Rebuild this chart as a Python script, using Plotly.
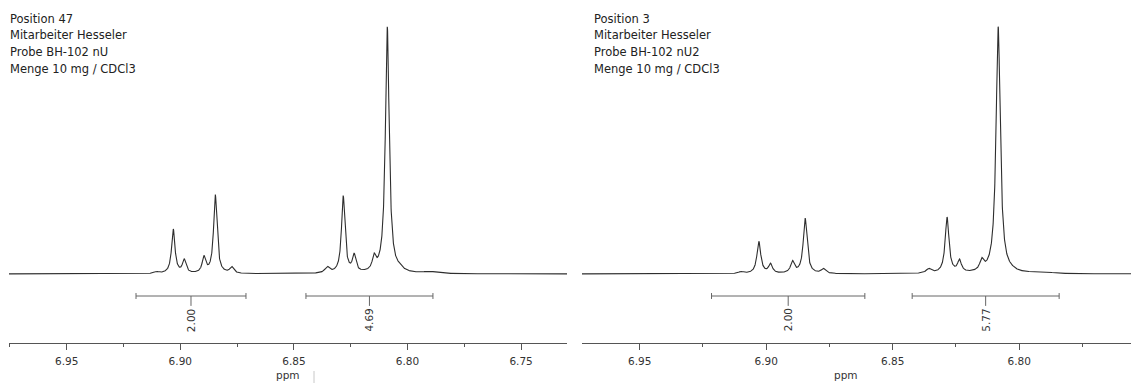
import numpy as np
import plotly.graph_objects as go

# ---------------- data ----------------
# peak positions (ppm), apparent heights (% of tallest line), half-widths (ppm)
peak_ppm_a = [6.9104, 6.9031, 6.8983, 6.8896, 6.8846, 6.8774, 6.8353, 6.8283, 6.8235, 6.8147, 6.8089, 6.8034, 6.7901]
peak_height_a = [1.05, 18.2, 6.2, 7.5, 32.1, 3.1, 3.1, 31.7, 8.5, 8.5, 100.0, 4.4, 1.05]
peak_ppm_b = [6.9100, 6.9029, 6.8983, 6.8896, 6.8846, 6.8774, 6.8357, 6.8285, 6.8236, 6.8148, 6.8083, 6.8029, 6.7911]
peak_height_b = [1.05, 13.2, 4.4, 5.5, 22.6, 2.3, 2.3, 23.0, 6.1, 6.7, 100.0, 3.8, 1.05]
peak_hwhm = [0.0012, 0.0009, 0.0009, 0.0009, 0.0009, 0.0010, 0.0012, 0.0009, 0.0009, 0.0009, 0.0010, 0.0016, 0.0040]

integral_ranges_a = [(6.9195, 6.8711), (6.8447, 6.7888)]
integral_values_a = [2.00, 4.69]
integral_ranges_b = [(6.9216, 6.8610), (6.8423, 6.7842)]
integral_values_b = [2.00, 5.77]

info_a = ["Position 47", "Mitarbeiter Hesseler", "Probe BH-102 nU", "Menge 10 mg / CDCl3"]
info_b = ["Position 3", "Mitarbeiter Hesseler", "Probe BH-102 nU2", "Menge 10 mg / CDCl3"]

major_ticks = [6.95, 6.90, 6.85, 6.80, 6.75]
minor_ticks = [6.975, 6.925, 6.875, 6.825, 6.775, 6.725]
range_a = [6.9754, 6.7298]
range_b = [6.9728, 6.7558]


def spectrum(grid, centers, heights, widths):
    """Lorentzian line shapes whose summed curve reaches the read heights at the read positions."""
    c = np.array(centers)
    w = np.array(widths)
    M = 1.0 / (1.0 + ((c[:, None] - c[None, :]) / w[None, :]) ** 2)
    amps = np.linalg.solve(M, np.array(heights))
    L = 1.0 / (1.0 + ((grid[:, None] - c[None, :]) / w[None, :]) ** 2)
    return L @ amps


grid = np.linspace(6.98, 6.72, 5200)
ya = spectrum(grid, peak_ppm_a, peak_height_a, peak_hwhm)
yb = spectrum(grid, peak_ppm_b, peak_height_b, peak_hwhm)

W, H = 1131, 383
FONT = "DejaVu Sans"
LINE = "#2e2e2e"
AX = "#555555"

fig = go.Figure()
fig.add_trace(go.Scatter(x=grid, y=ya, mode="lines", line=dict(color=LINE, width=1.1),
                         xaxis="x", yaxis="y", hoverinfo="skip"))
fig.add_trace(go.Scatter(x=grid, y=yb, mode="lines", line=dict(color=LINE, width=1.1),
                         xaxis="x2", yaxis="y2", hoverinfo="skip"))

AXIS_Y = 343
PX_PER_UNIT = 2.473  # px per intensity unit
ydom = [(H - AXIS_Y) / H, 1.0]
yrange = [-(AXIS_Y - 274) / PX_PER_UNIT, 274 / PX_PER_UNIT]


def xaxis(domain, rng, anchor):
    return dict(domain=domain, range=rng, anchor=anchor, showgrid=False, zeroline=False,
                showline=True, linecolor=AX, linewidth=1,
                ticks="outside", ticklen=6, tickwidth=1, tickcolor=AX, ticklabelstandoff=2,
                tickvals=major_ticks, ticktext=[f"{v:.2f}" for v in major_ticks],
                minor=dict(tickvals=minor_ticks, ticks="outside", ticklen=3, tickcolor=AX, tickwidth=1, showgrid=False),
                tickfont=dict(family=FONT, size=10.5, color="#333333"))


fig.update_layout(
    width=W, height=H, margin=dict(l=0, r=0, t=0, b=0),
    paper_bgcolor="white", plot_bgcolor="white", showlegend=False,
    xaxis=xaxis([9 / W, 567 / W], range_a, "y"),
    xaxis2=xaxis([582 / W, 1.0], range_b, "y2"),
    yaxis=dict(domain=ydom, range=yrange, visible=False),
    yaxis2=dict(domain=ydom, range=yrange, visible=False, anchor="x2"),
)

shapes = []
annotations = []
BR = "#666666"
yb_line = -8.9
for xr, yr, ranges, values in [("x", "y", integral_ranges_a, integral_values_a),
                               ("x2", "y2", integral_ranges_b, integral_values_b)]:
    for (lo, hi), val in zip(ranges, values):
        mid = (lo + hi) / 2
        shapes.append(dict(type="line", xref=xr, yref=yr, x0=lo, x1=hi, y0=yb_line, y1=yb_line,
                           line=dict(color=BR, width=1)))
        for e in (lo, hi):
            shapes.append(dict(type="line", xref=xr, yref=yr, x0=e, x1=e, y0=yb_line + 1.2, y1=yb_line - 1.2,
                               line=dict(color=BR, width=1)))
        shapes.append(dict(type="line", xref=xr, yref=yr, x0=mid, x1=mid, y0=yb_line, y1=yb_line - 4.0,
                           line=dict(color=BR, width=1)))
        annotations.append(dict(xref=xr, yref=yr, x=mid, y=yb_line - 4.3, text=f"{val:.2f}",
                                textangle=-90, showarrow=False, xanchor="center", yanchor="top",
                                font=dict(family=FONT, size=10.5, color="#333333")))

# info text blocks
line_y = [19, 35.5, 52, 68.5]
for x0, lines in [(8, info_a), (592, info_b)]:
    for t, yp in zip(lines, line_y):
        annotations.append(dict(xref="paper", yref="paper", x=x0 / W, y=1 - yp / H, text=t,
                                showarrow=False, xanchor="left", yanchor="middle",
                                font=dict(family=FONT, size=11.5, color="#222222")))

# axis titles
for xp in (288, 846):
    annotations.append(dict(xref="paper", yref="paper", x=xp / W, y=1 - 375 / H, text="ppm",
                            showarrow=False, xanchor="center", yanchor="middle",
                            font=dict(family=FONT, size=10.5, color="#333333")))

# small cursor mark below the left axis
shapes.append(dict(type="line", xref="paper", yref="paper", x0=314 / W, x1=314 / W, y0=0, y1=12 / H,
                   line=dict(color="#c8c8c8", width=1)))

fig.update_layout(shapes=shapes, annotations=annotations)
fig.write_html("out.html", config={"displayModeBar": False},
               post_script="document.body.style.margin='0px';document.body.style.padding='0px';"
                           "document.body.style.overflow='hidden';")
